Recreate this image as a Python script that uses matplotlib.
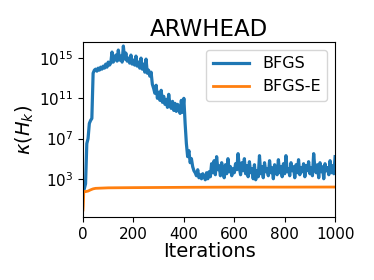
import numpy as np
import matplotlib
matplotlib.use("Agg")
from matplotlib import pyplot as plt

# BFGS: log10 of condition number, every 5 iterations (0..1000)
bfgs_iters = list(range(0, 1001, 5))
bfgs_log = [
    1.8, 2.0, 2.5, 6.5, 7.0, 8.5, 8.8, 9.0, 13.5, 13.8,
    13.9, 13.7, 14.0, 13.8, 14.1, 13.9, 14.2, 14.0, 14.4, 14.1,
    14.6, 14.3, 14.5, 15.6, 14.6, 14.9, 15.3, 14.7, 15.8, 14.8,
    15.2, 14.6, 16.2, 14.9, 15.5, 14.7, 15.0, 14.5, 15.3, 14.4,
    14.8, 14.3, 15.2, 14.2, 14.6, 14.0, 15.0, 13.9, 14.4, 13.6,
    14.9, 13.5, 13.8, 13.2, 13.6, 12.4, 12.0, 11.5, 12.3, 11.0,
    11.6, 10.8, 11.8, 10.6, 11.2, 10.4, 10.9, 10.1, 11.4, 10.3,
    10.0, 10.7, 9.8, 10.5, 9.7, 10.4, 9.9, 9.5, 10.8, 9.6,
    11.0, 8.5, 6.5, 5.2, 5.8, 4.6, 5.0, 4.2, 3.8, 3.6,
    3.3, 3.9, 3.1, 3.4, 3.0, 3.5, 3.2, 2.9, 3.6, 3.0,
    3.7, 3.2, 4.5, 3.6, 4.8, 3.4, 5.2, 3.9, 4.3, 3.3,
    4.6, 3.8, 3.1, 4.4, 3.5, 5.0, 3.7, 4.2, 3.3, 4.0,
    3.6, 4.5, 3.9, 5.5, 4.1, 3.4, 4.6, 3.8, 5.0, 3.5,
    4.3, 3.2, 4.7, 3.6, 4.0, 3.0, 4.4, 2.9, 3.8, 3.2,
    5.3, 3.5, 4.2, 3.1, 4.6, 3.7, 4.0, 3.3, 4.8, 3.6,
    4.1, 3.0, 4.4, 3.8, 3.4, 4.9, 3.6, 4.2, 3.2, 4.5,
    3.5, 5.3, 3.7, 4.0, 3.3, 4.6, 3.8, 4.2, 3.1, 4.4,
    3.6, 4.9, 3.4, 4.1, 3.7, 4.5, 3.2, 4.3, 3.8, 4.7,
    3.5, 4.1, 3.3, 5.5, 4.0, 3.6, 4.4, 3.1, 4.6, 3.7,
    4.2, 3.0, 4.5, 3.8, 4.1, 3.4, 4.8, 3.6, 4.3, 3.5,
    5.2,
]

# BFGS-E
bfgse_iters = [0, 1, 2, 3, 5, 10, 20, 30, 40, 50, 100, 200, 400, 600, 800, 1000]
bfgse_log = [-0.1, 0.3, 1.0, 1.7, 1.75, 1.72, 1.78, 1.9, 2.0, 2.05,
             2.1, 2.12, 2.15, 2.17, 2.17, 2.18]

fig = plt.figure(figsize=(3.74, 2.8), dpi=100)
ax = fig.add_axes([0.222, 0.225, 0.674, 0.625])

ax.plot(bfgs_iters, 10.0 ** np.array(bfgs_log), color='#1f77b4', lw=2.3, label='BFGS')
ax.plot(bfgse_iters, 10.0 ** np.array(bfgse_log), color='#ff7f0e', lw=2, label='BFGS-E')

ax.set_yscale('log')
ax.set_xlim(0, 1000)
ax.set_ylim(10 ** -0.8, 10 ** 16.6)
ax.set_yticks([1e3, 1e7, 1e11, 1e15])
ax.minorticks_off()
ax.set_xticks([0, 200, 400, 600, 800, 1000])
ax.tick_params(labelsize=11)

ax.set_title('ARWHEAD', fontsize=16.5, pad=4)
ax.set_xlabel('Iterations', fontsize=14, labelpad=0)
ax.set_ylabel(r'$\kappa(H_k)$', fontsize=14, labelpad=2)
ax.legend(loc='upper right', fontsize=11.5, handlelength=2.3)

fig.savefig('out.png', dpi=100)
